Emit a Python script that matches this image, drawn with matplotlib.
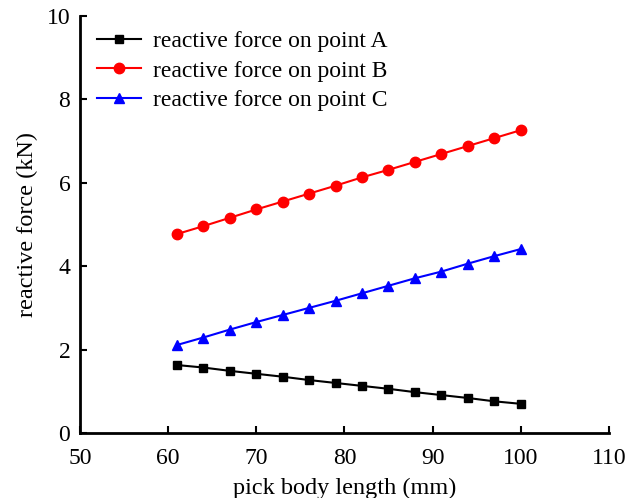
import matplotlib
matplotlib.use('Agg')
import matplotlib.pyplot as plt

plt.rcParams['font.family'] = ['Liberation Serif', 'DejaVu Serif']

# pick body length (mm)
length = [61, 64, 67, 70, 73, 76, 79, 82, 85, 88, 91, 94, 97, 100]

# reactive forces (kN)
force_a = [1.63, 1.57, 1.49, 1.42, 1.35, 1.27, 1.20, 1.13, 1.06, 0.98, 0.91, 0.84, 0.76, 0.70]
force_b = [4.77, 4.96, 5.16, 5.36, 5.55, 5.74, 5.93, 6.13, 6.31, 6.50, 6.69, 6.88, 7.07, 7.26]
force_c = [2.11, 2.29, 2.48, 2.66, 2.83, 3.00, 3.17, 3.35, 3.53, 3.71, 3.87, 4.06, 4.24, 4.41]

fig = plt.figure(figsize=(6.25, 4.98), dpi=100)
ax = fig.add_axes([0.128, 0.1305, 0.846, 0.8375])

ax.plot(length, force_a, color='black', marker='s', markersize=5.5, linewidth=1.5,
        label='reactive force on point A')
ax.plot(length, force_b, color='red', marker='o', markersize=7.5, linewidth=1.5,
        label='reactive force on point B')
ax.plot(length, force_c, color='blue', marker='^', markersize=7.5, linewidth=1.5,
        label='reactive force on point C')

ax.set_xlim(50, 110)
ax.set_ylim(0, 10)
ax.set_xticks(range(50, 111, 10))
ax.set_yticks(range(0, 11, 2))

for side in ('top', 'right'):
    ax.spines[side].set_visible(False)
for side in ('left', 'bottom'):
    ax.spines[side].set_linewidth(2)

ax.tick_params(direction='in', length=5, width=1.5, labelsize=17)
ax.tick_params(axis='x', pad=11)
ax.tick_params(axis='y', pad=7)
ax.set_xlabel('pick body length (mm)', fontsize=17.5, labelpad=6)
ax.set_ylabel('reactive force (kN)', fontsize=17.5, labelpad=6)

ax.legend(loc='upper left', bbox_to_anchor=(0.0, 1.004), frameon=False,
          fontsize=17, handlelength=1.9, handletextpad=0.5,
          borderaxespad=0.3, labelspacing=0.33)

fig.savefig('out.png', dpi=100)
